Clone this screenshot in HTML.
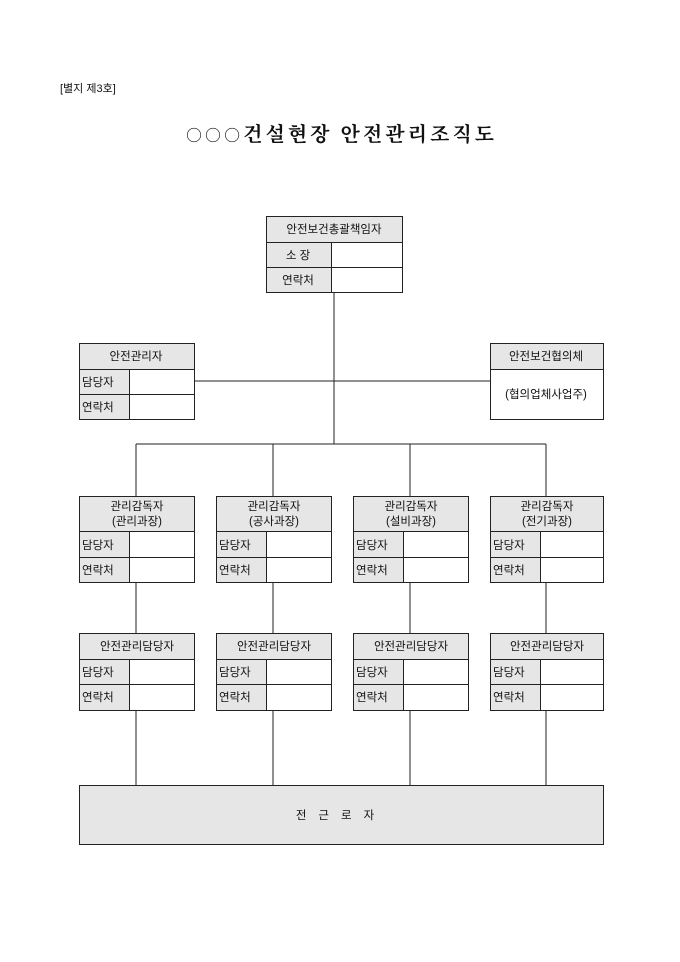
<!DOCTYPE html>
<html><head><meta charset="utf-8"><style>
html,body{margin:0;padding:0;background:#fff;}
svg{display:block;}
text{font-family:"Liberation Sans","Noto Sans CJK KR","NanumGothic",sans-serif;font-size:11.5px;fill:#111;}
</style></head><body>
<svg width="680" height="962" viewBox="0 0 680 962" xmlns="http://www.w3.org/2000/svg">
<text x="60" y="92" style="font-size:11px">[별지 제3호]</text>
<text x="340" y="141" text-anchor="middle" textLength="308" lengthAdjust="spacing" style="font-family:'Noto Serif CJK SC','Liberation Serif',serif;font-size:20px;font-weight:bold"><tspan style="font-size:16px;font-weight:normal">○○○</tspan>건설현장 안전관리조직도</text>

<g stroke="#222" stroke-width="1" fill="none">
<line x1="334" y1="292" x2="334" y2="444"/>
<line x1="194" y1="381" x2="490" y2="381"/>
<line x1="136" y1="444" x2="546" y2="444"/>
<line x1="136" y1="444" x2="136" y2="496"/>
<line x1="273" y1="444" x2="273" y2="496"/>
<line x1="410" y1="444" x2="410" y2="496"/>
<line x1="546" y1="444" x2="546" y2="496"/>
<line x1="136" y1="582" x2="136" y2="633"/>
<line x1="273" y1="582" x2="273" y2="633"/>
<line x1="410" y1="582" x2="410" y2="633"/>
<line x1="546" y1="582" x2="546" y2="633"/>
<line x1="136" y1="710" x2="136" y2="785"/>
<line x1="273" y1="710" x2="273" y2="785"/>
<line x1="410" y1="710" x2="410" y2="785"/>
<line x1="546" y1="710" x2="546" y2="785"/>
</g>

<g stroke="#222" stroke-width="1">
<rect x="266.5" y="216.5" width="136" height="76" fill="#fff"/>
<rect x="266.5" y="216.5" width="136" height="26" fill="#e6e6e6"/>
<rect x="266.5" y="242.5" width="65" height="50" fill="#e6e6e6"/>
<line x1="266.5" y1="267.5" x2="402.5" y2="267.5"/>
<rect x="79.5" y="343.5" width="115" height="76" fill="#fff"/>
<rect x="79.5" y="343.5" width="115" height="26" fill="#e6e6e6"/>
<rect x="79.5" y="369.5" width="50" height="50" fill="#e6e6e6"/>
<line x1="79.5" y1="394.5" x2="194.5" y2="394.5"/>
<rect x="490.5" y="343.5" width="113" height="76" fill="#fff"/>
<rect x="490.5" y="343.5" width="113" height="26" fill="#e6e6e6"/>
<rect x="79.5" y="785.5" width="524" height="59" fill="#e6e6e6"/>
</g>
<text x="334" y="233" text-anchor="middle">안전보건총괄책임자</text>
<text x="298" y="259" text-anchor="middle">소  장</text>
<text x="298" y="284" text-anchor="middle">연락처</text>
<text x="136" y="360" text-anchor="middle">안전관리자</text>
<text x="82" y="386">담당자</text>
<text x="82" y="411">연락처</text>
<text x="546" y="360" text-anchor="middle">안전보건협의체</text>
<text x="546" y="398" text-anchor="middle">(협의업체사업주)</text>
<text x="341" y="819" text-anchor="middle" style="letter-spacing:12px">전근로자</text>

<g id="col">
<g stroke="#222" stroke-width="1">
<rect x="79.5" y="496.5" width="115" height="86" fill="#fff"/>
<rect x="79.5" y="496.5" width="115" height="35" fill="#e6e6e6"/>
<rect x="79.5" y="531.5" width="50" height="51" fill="#e6e6e6"/>
<line x1="79.5" y1="557.5" x2="194.5" y2="557.5"/>
<rect x="79.5" y="633.5" width="115" height="77" fill="#fff"/>
<rect x="79.5" y="633.5" width="115" height="26" fill="#e6e6e6"/>
<rect x="79.5" y="659.5" width="50" height="51" fill="#e6e6e6"/>
<line x1="79.5" y1="684.5" x2="194.5" y2="684.5"/>
</g>
<text x="82" y="549">담당자</text>
<text x="82" y="574">연락처</text>
<text x="82" y="676">담당자</text>
<text x="82" y="701">연락처</text>
<text x="137" y="650" text-anchor="middle">안전관리담당자</text>
<text x="137" y="510" text-anchor="middle">관리감독자</text>
</g>
<use href="#col" x="137"/>
<use href="#col" x="274"/>
<g stroke="#222" stroke-width="1">
<rect x="490.5" y="496.5" width="113" height="86" fill="#fff"/>
<rect x="490.5" y="496.5" width="113" height="35" fill="#e6e6e6"/>
<rect x="490.5" y="531.5" width="50" height="51" fill="#e6e6e6"/>
<line x1="490.5" y1="557.5" x2="603.5" y2="557.5"/>
<rect x="490.5" y="633.5" width="113" height="77" fill="#fff"/>
<rect x="490.5" y="633.5" width="113" height="26" fill="#e6e6e6"/>
<rect x="490.5" y="659.5" width="50" height="51" fill="#e6e6e6"/>
<line x1="490.5" y1="684.5" x2="603.5" y2="684.5"/>
</g>
<text x="493" y="549">담당자</text>
<text x="493" y="574">연락처</text>
<text x="493" y="676">담당자</text>
<text x="493" y="701">연락처</text>
<text x="547" y="650" text-anchor="middle">안전관리담당자</text>
<text x="547" y="510" text-anchor="middle">관리감독자</text>
<text x="137" y="525" text-anchor="middle">(관리과장)</text>
<text x="274" y="525" text-anchor="middle">(공사과장)</text>
<text x="411" y="525" text-anchor="middle">(설비과장)</text>
<text x="547" y="525" text-anchor="middle">(전기과장)</text>
</svg>
</body></html>
